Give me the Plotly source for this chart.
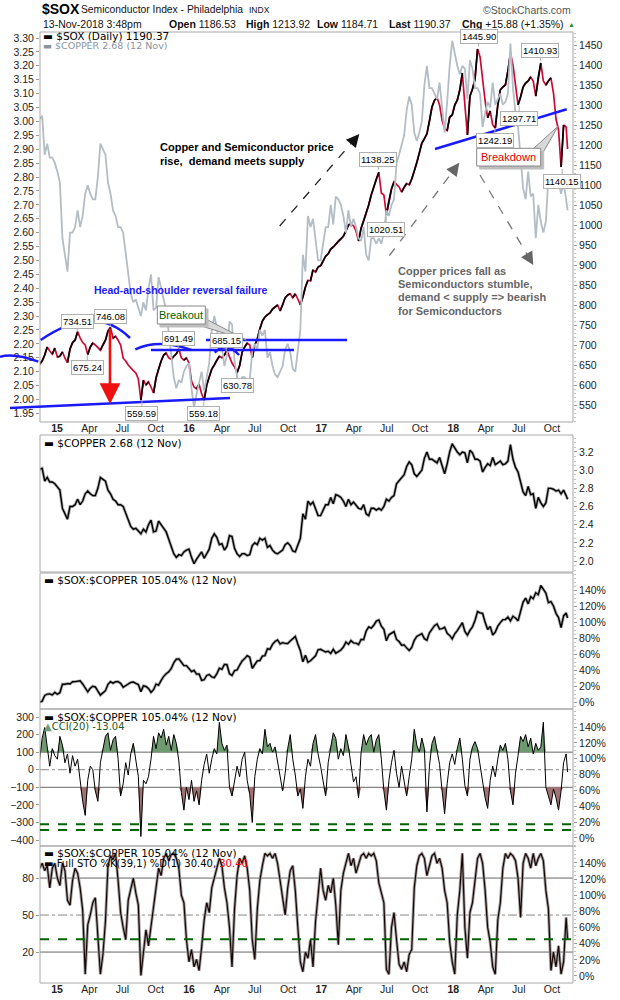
import numpy as np
import pandas as pd
import plotly.graph_objects as go

# weekly readings (Fridays), last point is 13-Nov-2018
dates = list(pd.date_range("2014-11-14", "2018-11-09", freq="W-FRI")) + [pd.Timestamp("2018-11-13")]

sox = [
    652, 660, 675,
    695, 685, 677, 692,
    670, 672, 683, 667, 656,  690, 706, 712, 733,  718, 706, 700, 676,
    695, 705, 700, 692,  687, 700, 712, 735, 744,  717, 722, 712, 700,
    667, 660, 650, 642, 636,  630, 615, 562, 612,  600, 608, 595, 580,
    618, 640, 660, 675, 680,  668, 664, 672, 678,  690, 668, 662, 668,
    655, 610, 595, 590, 602,  578, 562, 600, 620,  640, 650, 662, 672,
    668, 675, 686, 668, 655,  645, 631, 648, 682,  695, 705, 700, 668,
    700, 715, 740, 760, 770,  776, 780, 790, 795,  800, 785, 800, 818, 825,
    828, 818, 828, 815,  800, 820, 845, 862,  860, 888, 882, 895, 898,
    910, 922, 928, 940,  945, 952, 960, 965,  972, 985, 1000, 1003, 998,
    985, 960, 992, 1010,  1030, 1050, 1075, 1095,  1115, 1132, 1080, 1075, 1025,
    1060, 1090, 1108, 1100,  1095, 1082, 1095, 1104,  1100, 1115, 1135, 1155, 1180,
    1205, 1215, 1228, 1260,  1295, 1312, 1318, 1300,  1262, 1240, 1236, 1270, 1275,
    1300, 1312, 1338, 1380,  1300, 1225, 1322, 1340,  1365, 1440, 1420, 1360, 1310,
    1268, 1285, 1250, 1242,  1300, 1338, 1345, 1350,  1385, 1430, 1400, 1345, 1300,
    1320, 1345, 1355, 1360,  1370, 1360, 1322, 1370, 1405,  1360, 1350, 1360, 1368,
    1330, 1265, 1238, 1145,  1250, 1245, 1190,
]

copper = [
    3.01, 3.02, 2.88,
    2.92, 2.87, 2.87, 2.85,
    2.82, 2.78, 2.58, 2.52, 2.46,  2.60, 2.60, 2.62, 2.68,  2.62, 2.66, 2.74, 2.77,
    2.74, 2.72, 2.72, 2.80,  2.92, 2.90, 2.88, 2.78, 2.74,  2.68, 2.66, 2.62, 2.62,
    2.60, 2.52, 2.45, 2.38, 2.35,  2.36, 2.33, 2.30, 2.35,  2.32, 2.40, 2.45, 2.32,
    2.33, 2.44, 2.40, 2.36, 2.32,  2.24, 2.16, 2.08, 2.04,  2.07, 2.06, 2.10, 2.12,
    2.13, 2.04, 1.97, 2.02, 2.06,  2.10, 2.03, 2.08, 2.13,  2.25, 2.30, 2.26, 2.18,
    2.19, 2.12, 2.16, 2.28, 2.27,  2.14, 2.08, 2.05, 2.08,  2.08, 2.06, 2.07, 2.17,
    2.20, 2.18, 2.25, 2.23, 2.25,  2.15, 2.17, 2.12, 2.09,  2.08, 2.10, 2.12, 2.18, 2.20,
    2.17, 2.11, 2.10, 2.18,  2.25, 2.52, 2.46, 2.66,  2.62, 2.65, 2.58, 2.50, 2.50,
    2.56, 2.62, 2.62, 2.70,  2.63, 2.73, 2.72, 2.70,  2.66, 2.60, 2.68, 2.62, 2.65,
    2.62, 2.58, 2.57, 2.62,  2.52, 2.50, 2.58, 2.58,  2.56, 2.58, 2.56, 2.60, 2.68,
    2.66, 2.70, 2.72, 2.85,  2.88, 2.92, 2.95, 3.04,  3.09, 3.06, 2.96, 2.93, 2.96,
    3.00, 3.13, 3.20, 3.12,  3.12, 3.10, 3.08, 3.14,  3.04, 2.96, 3.07, 3.20, 3.29,
    3.24, 3.20, 3.17, 3.20,  3.19, 3.08, 3.22, 3.19,  3.12, 3.12, 3.10, 2.98, 3.03,
    3.07, 3.05, 3.14, 3.06,  3.08, 3.10, 3.06, 3.07,  3.10, 3.28, 3.12, 3.03, 2.98,
    2.86, 2.76, 2.72, 2.82,  2.73, 2.74, 2.58, 2.70, 2.64,  2.60, 2.64, 2.80, 2.80,
    2.79, 2.77, 2.78, 2.74,  2.78, 2.72, 2.68,
]

cci = [
    60, 180, 240, 120, 20, 120, 80, 60, 190, 140, 40, 90, -20, 80, 20, 60, -80, -180, -260, -60,
    20, 0, -120, -180, 40, 120, 190, 210, 110, 170, 190, 60, -150, -80, 40, -30, 90, 150, 60, -40,
    -380, -60, -80, -40, 60, 190, 120, 210, 180, 230, 140, 190, 110, 200, 150, 50, -130, -230, -100, -170,
    -60, -180, -120, -200, -60, 30, 90, -20, 60, 120, 90, 270, 150, 110, 140, -100, -150, -60, 20, -40,
    60, 100, -60, -140, -300, -40, 60, 120, 90, 230, 130, 150, 100, 130, 40, -50, -120, -20, 120, 200,
    60, -30, -150, -110, -220, -40, 60, 20, 150, 200, 90, 20, -60, -150, 40, 140, 210, 180, 60, 120,
    80, 200, 130, 30, -70, -40, -160, 100, 200, 140, 180, 200, 100, 170, 200, 60, -120, -230, -60, 40,
    110, -20, -100, 20, -80, -150, -40, 60, 230, 140, 100, 180, 120, -240, 20, 150, 190, 120, 30, -120,
    -250, -80, 40, 90, 30, 120, 180, 60, -90, -150, 60, 130, 160, 120, 30, -80, -160, -220, -60, 20,
    -40, 60, 140, 110, 150, 60, -120, -200, -20, 80, 190, 160, 200, 130, 180, 90, 150, 110, 130, 270,
    -100, -150, -200, -110, -160, -230, -120, 40, 90, -13.04,
]

sto = [
    88, 92, 86, 90, 72, 88, 92, 80, 74, 92, 86, 62, 58, 78, 88, 84, 72, 54, 2, 42,
    50, 60, 64, 30, 2, 18, 45, 90, 98, 95, 100, 78, 52, 40, 30, 62, 72, 80, 68, 58,
    1, 20, 38, 25, 42, 55, 74, 88, 82, 96, 100, 94, 99, 100, 96, 88, 66, 60, 30, 12,
    22, 8, 14, 5, 24, 46, 60, 52, 72, 80, 86, 96, 90, 72, 60, 40, 8, 55, 82, 96,
    92, 98, 88, 70, 30, 14, 55, 78, 90, 100, 98, 100, 96, 100, 92, 78, 62, 50, 72, 86,
    90, 70, 40, 12, 4, 20, 15, 30, 8, 45, 66, 88, 70, 62, 74, 68, 80, 58, 26, 70,
    84, 92, 100, 90, 96, 84, 92, 98, 100, 96, 100, 98, 100, 94, 76, 68, 60, 6, 2, 40,
    52, 30, 10, 6, 12, 4, 18, 22, 72, 90, 98, 100, 96, 82, 90, 98, 100, 92, 96, 88,
    70, 60, 28, 12, 2, 50, 70, 100, 40, 15, 52, 60, 78, 96, 100, 92, 70, 40, 28, 8,
    2, 46, 60, 88, 100, 96, 100, 98, 94, 80, 48, 92, 100, 96, 88, 100, 90, 96, 100, 94,
    70, 55, 5, 20, 8, 25, 2, 12, 48, 30.4,
]

# value labels on the $SOX line
label_dates = ["2015-02-26", "2015-05-28", "2015-03-26", "2015-08-24", "2015-12-02",
               "2016-02-11", "2016-04-13", "2016-05-13", "2017-06-08", "2017-06-29",
               "2018-03-12", "2018-04-26", "2018-07-02", "2018-08-30", "2018-10-29"]
label_values = [734.51, 746.08, 675.24, 559.59, 691.49, 559.18, 685.15, 630.78,
                1138.25, 1020.51, 1445.90, 1242.19, 1297.71, 1410.93, 1140.15]
label_above = [1, 1, 0, 0, 1, 0, 1, 0, 1, 0, 1, 0, 0, 1, 0]

tick_dates = pd.date_range("2015-01-01", "2018-10-01", freq="QS")
tick_text = [f"<b>{d.strftime('%y')}</b>" if d.month == 1 else d.strftime("%b") for d in tick_dates]
pct_ticks = list(range(0, 141, 20))
pct_text = [f"{v}%" for v in pct_ticks]

n = len(dates)
sox_arr = np.array(sox, dtype=float)
cop_arr = np.array(copper, dtype=float)
cci_arr = np.array(cci, dtype=float)
ratio = (sox_arr / cop_arr) / (sox_arr[0] / cop_arr[0]) * 100 - 100

# pixel -> paper helpers (plot area 40..573 x 32..983)
L, R, T, B = 40, 573, 32, 983


def P(x, y):
    return (x - L) / (R - L), (B - y) / (B - T)


def dom(top, bottom):
    return [(B - bottom) / (B - T), (B - top) / (B - T)]


TXT = "Liberation Sans, Arial"
LEG = "DejaVu Sans, Verdana"

fig = go.Figure()

# ---- top panel: copper (grey, left) and $SOX (right)
fig.add_trace(go.Scatter(x=dates, y=copper, mode="lines", line=dict(color="#b4bdc5", width=1.8),
                         xaxis="x2", yaxis="y2", hoverinfo="skip"))
fig.add_trace(go.Scatter(x=dates, y=sox, mode="lines", line=dict(color="#cc0a35", width=1.7),
                         xaxis="x2", yaxis="y"))
up_x, up_y = [], []
for i in range(1, n):
    if sox[i] >= sox[i - 1]:
        up_x += [dates[i - 1], dates[i], None]
        up_y += [sox[i - 1], sox[i], None]
fig.add_trace(go.Scatter(x=up_x, y=up_y, mode="lines", line=dict(color="black", width=1.7),
                         xaxis="x2", yaxis="y", hoverinfo="skip"))

# ---- copper panel
fig.add_trace(go.Scatter(x=dates, y=copper, mode="lines", line=dict(color="#aaaaaa", width=3),
                         xaxis="x", yaxis="y3", hoverinfo="skip"))
fig.add_trace(go.Scatter(x=dates, y=copper, mode="lines", line=dict(color="black", width=1.4),
                         xaxis="x", yaxis="y3"))

# ---- ratio panel
fig.add_trace(go.Scatter(x=dates, y=ratio, mode="lines", line=dict(color="#aaaaaa", width=3),
                         xaxis="x", yaxis="y4", hoverinfo="skip"))
fig.add_trace(go.Scatter(x=dates, y=ratio, mode="lines", line=dict(color="black", width=1.4),
                         xaxis="x", yaxis="y4"))

# ---- CCI panel
fig.add_trace(go.Scatter(x=dates, y=np.full(n, 100.0), mode="lines", line=dict(width=0),
                         xaxis="x", yaxis="y5", hoverinfo="skip"))
fig.add_trace(go.Scatter(x=dates, y=np.maximum(cci_arr, 100), mode="lines", line=dict(width=0),
                         fill="tonexty", fillcolor="#6f9a70", xaxis="x", yaxis="y5", hoverinfo="skip"))
fig.add_trace(go.Scatter(x=dates, y=np.full(n, -100.0), mode="lines", line=dict(width=0),
                         xaxis="x", yaxis="y5", hoverinfo="skip"))
fig.add_trace(go.Scatter(x=dates, y=np.minimum(cci_arr, -100), mode="lines", line=dict(width=0),
                         fill="tonexty", fillcolor="#a07272", xaxis="x", yaxis="y5", hoverinfo="skip"))
fig.add_trace(go.Scatter(x=dates, y=cci, mode="lines", line=dict(color="black", width=1),
                         xaxis="x", yaxis="y5"))
fig.add_trace(go.Scatter(x=dates, y=ratio, mode="lines", line=dict(width=0),
                         xaxis="x", yaxis="y6", hoverinfo="skip"))

# ---- STO panel
fig.add_trace(go.Scatter(x=dates, y=sto, mode="lines", line=dict(color="#a0a0a0", width=3),
                         xaxis="x", yaxis="y7", hoverinfo="skip"))
fig.add_trace(go.Scatter(x=dates, y=sto, mode="lines", line=dict(color="#1a0505", width=1.2),
                         xaxis="x", yaxis="y7"))
fig.add_trace(go.Scatter(x=dates, y=ratio, mode="lines", line=dict(width=0),
                         xaxis="x", yaxis="y8", hoverinfo="skip"))

tickfont = dict(family=TXT, size=10.5, color="#222")
xcommon = dict(range=["2014-11-15", "2018-11-28"], tickvals=tick_dates, ticktext=tick_text,
               showgrid=False, zeroline=False, showline=False, ticks="", tickfont=tickfont,
               automargin=False, fixedrange=True, ticklabelstandoff=-2)
ycommon = dict(showgrid=False, zeroline=False, showline=False, ticks="outside", ticklen=3,
               tickcolor="#999", tickfont=tickfont, automargin=False)


def minor(step):
    return dict(ticks="outside", ticklen=2, tickcolor="#c0c0c0", dtick=step)


fig.update_layout(
    width=620, height=1000,
    margin=dict(l=L, r=620 - R, t=T, b=1000 - B),
    paper_bgcolor="white", plot_bgcolor="white", showlegend=False, template="none",
    font=dict(family=TXT, size=10, color="#222"),
    xaxis=dict(domain=[0, 1], anchor="y7", **xcommon),
    xaxis2=dict(domain=[0, 1], anchor="y", matches="x", **xcommon),
    yaxis=dict(domain=dom(T, 422), anchor="x2", side="right", range=[507.5, 1482.5],
               tickvals=list(range(550, 1451, 50)), minor=minor(10), **ycommon),
    yaxis2=dict(overlaying="y", anchor="x2", side="left", range=[1.919, 3.3216],
                tickvals=list(np.round(np.arange(1.95, 3.301, 0.05), 2)), tickformat=".2f", **ycommon),
    yaxis3=dict(domain=dom(435, 572), anchor="x", side="right", range=[1.879, 3.387],
                tickvals=[2.0, 2.2, 2.4, 2.6, 2.8, 3.0, 3.2], tickformat=".1f", minor=minor(0.05), **ycommon),
    yaxis4=dict(domain=dom(573, 709), anchor="x", side="right", range=[-8.75, 161.25],
                tickvals=pct_ticks, ticktext=pct_text, minor=minor(5), **ycommon),
    yaxis5=dict(domain=dom(709, 846), anchor="x", side="left", range=[-434, 345.5],
                tickvals=list(range(-400, 301, 100)), **ycommon),
    yaxis6=dict(overlaying="y5", anchor="x", side="right", range=[-10.1, 162.7],
                tickvals=pct_ticks, ticktext=pct_text, minor=minor(5), **ycommon),
    yaxis7=dict(domain=dom(846, B), anchor="x", side="left", range=[-5.1, 106],
                tickvals=[20, 50, 80], **ycommon),
    yaxis8=dict(overlaying="y7", anchor="x", side="right", range=[-8.7, 161],
                tickvals=pct_ticks, ticktext=pct_text, minor=minor(5), **ycommon),
)

shapes = []
# panel frames
for top, bottom in [(T, 422), (435, 572), (573, 709), (709, 846), (846, B)]:
    y0, y1 = dom(top, bottom)
    shapes.append(dict(type="rect", xref="paper", yref="paper", x0=0, x1=1, y0=y0, y1=y1,
                       line=dict(color="#a8a8a8", width=1), layer="above"))

# indicator reference lines
for yref, level, dash, color in [("y5", 100, "solid", "#666"), ("y5", -100, "solid", "#666"),
                                 ("y5", 0, "dashdot", "#888"), ("y7", 80, "solid", "#666"),
                                 ("y7", 20, "solid", "#666"), ("y7", 50, "dashdot", "#888")]:
    shapes.append(dict(type="line", xref="paper", yref=yref, x0=0, x1=1, y0=level, y1=level,
                       line=dict(color=color, width=1, dash=dash), layer="below"))
for yref, level in [("y5", -310), ("y5", -343), ("y7", 30.4)]:
    shapes.append(dict(type="line", xref="paper", yref=yref, x0=0, x1=1, y0=level, y1=level,
                       line=dict(color="#006400", width=2, dash="dash"), layer="above"))

BLUE = "#1a1aff"


def seg(x0, y0, x1, y1, color=BLUE, width=2.5, dash="solid"):
    a, b = P(x0, y0)
    c, d = P(x1, y1)
    return dict(type="line", xref="paper", yref="paper", x0=a, y0=b, x1=c, y1=d,
                line=dict(color=color, width=width, dash=dash), layer="above")


def arc(x0, y0, cx, cy, x1, y1):
    a, b = P(x0, y0)
    c, d = P(cx, cy)
    e, f = P(x1, y1)
    return dict(type="path", xref="paper", yref="paper", path=f"M {a},{b} Q {c},{d} {e},{f}",
                line=dict(color=BLUE, width=2.5), layer="above")


# head-and-shoulder drawings
shapes += [
    arc(0, 356.7, 15, 353, 38.3, 361.7),
    arc(40.7, 340, 94.7, 303, 130, 338),
    arc(135.3, 349.3, 159.3, 338.3, 191.3, 350),
    arc(214.7, 352.7, 225.8, 340.8, 239, 355),
    seg(151, 350, 294, 350),
    seg(206, 340, 347, 340),
    seg(10, 408, 230, 398),
    seg(435, 149, 566.7, 109.3),
    seg(279.7, 226, 355.5, 138.4, color="#222", width=1.3, dash="dash"),
    seg(389.3, 255.7, 456.5, 166.5, color="#777", width=1.3, dash="dash"),
    seg(480, 175, 530.8, 260.7, color="#777", width=1.3, dash="dash"),
]


def poly(points, fill, line):
    pts = [P(x, y) for x, y in points]
    path = "M " + " L ".join(f"{a},{b}" for a, b in pts) + " Z"
    return dict(type="path", xref="paper", yref="paper", path=path, fillcolor=fill,
                line=dict(color=line, width=1), layer="above")


def box(x0, y0, x1, y1, fill, line):
    a, b = P(x0, y0)
    c, d = P(x1, y1)
    return dict(type="rect", xref="paper", yref="paper", x0=a, y0=d, x1=c, y1=b,
                fillcolor=fill, line=dict(color=line, width=1), layer="above")


# callout boxes with shadow and tail
shapes += [
    poly([(196.5, 324.5), (246.3, 340), (205, 318.5)], "#d8d8d8", "#888"),
    box(160, 309, 208, 327, "#bdbdbd", "#bdbdbd"),
    box(157.3, 306, 205.3, 324, "white", "#888"),
    poly([(533, 149), (558.3, 126), (541, 156)], "#d8d8d8", "#888"),
    box(479.7, 151.3, 543.7, 169, "#bdbdbd", "#bdbdbd"),
    box(476.7, 148.3, 540.7, 166, "white", "#888"),
]
fig.update_layout(shapes=shapes)

ann = []


def text(x, y, s, size=10.5, color="#222", family=TXT, anchor="left"):
    a, b = P(x, y)
    ann.append(dict(xref="paper", yref="paper", x=a, y=b, text=s, showarrow=False,
                    xanchor=anchor, yanchor="middle", font=dict(family=family, size=size, color=color)))


# header
text(40, 9, "<b>$SOX</b>", size=14, color="black")
text(79, 9.5, "Semiconductor Index - Philadelphia", size=10.3, color="#111")
text(247, 10, "INDX", size=8.5, color="#111")
text(573, 10, "©StockCharts.com", size=10.5, color="#555", anchor="right")
text(40.7, 23.5, "13-Nov-2018 3:48pm", size=10.5, color="#111")
for xx, s in [(167, "<b>Open</b> 1186.53"), (244, "<b>High</b> 1213.92"), (315, "<b>Low</b> 1184.71"),
              (387, "<b>Last</b> 1190.37"), (460, "<b>Chg</b> +15.88 (+1.35%)")]:
    text(xx, 23.5, s, size=10.5, color="#111")
text(566, 24, "▲", size=7, color="#2e8b2e")

# panel legends
text(40.5, 35.7, "▬ $SOX (Daily) 1190.37", size=10.5, color="black", family=LEG)
text(40.5, 45.7, "▬ $COPPER 2.68 (12 Nov)", size=9.5, color="#8a949c", family=LEG)
text(42, 443.3, "▬ $COPPER 2.68 (12 Nov)", size=10.5, color="black", family=LEG)
text(42, 580, "▬ $SOX:$COPPER 105.04% (12 Nov)", size=10.5, color="black", family=LEG)
text(42, 716.7, "▬ $SOX:$COPPER 105.04% (12 Nov)", size=10.5, color="black", family=LEG)
text(42, 726.7, "<span style='color:#6f9a70'>▲</span>CCI(20) -13.04", size=10, color="#1e5a1e", family=LEG)
text(42, 853.3, "▬ $SOX:$COPPER 105.04% (12 Nov)", size=10.5, color="black", family=LEG)
text(42, 863.3, "▬ Full STO %K(39,1) %D(1) 30.40, <span style='color:red'>30.40</span>", size=10,
     color="black", family=LEG)

# chart comments
text(180.5, 290, "<b>Head-and-shoulder reversal failure</b>", size=10.5, color=BLUE, anchor="center")
text(158, 147.3, "<b>Copper and Semiconductor price</b>", size=11, color="black")
text(158, 160.5, "<b>rise,  demand meets supply</b>", size=11, color="black")
for k, s in enumerate(["Copper prices fall as", "Semiconductors stumble,",
                       "demand &lt; supply =&gt; bearish", "for Semiconductors"]):
    text(396, 271 + 13.2 * k, f"<b>{s}</b>", size=11, color="#666")
text(181.3, 315, "Breakout", size=11, color="#006000", anchor="center")
text(508.7, 157.2, "Breakdown", size=11, color="#e00000", anchor="center")


def head(x, y, dx, dy, color, size=2.0, width=1.3):
    a, b = P(x, y)
    ann.append(dict(xref="paper", yref="paper", x=a, y=b, ax=dx, ay=dy, text="", showarrow=True,
                    arrowhead=2, arrowsize=size, arrowwidth=width, arrowcolor=color))


head(359.3, 134, -6.5, 7.6, "#111")
head(459.3, 162.7, -6, 8, "#666")
head(533.3, 265, -5.1, -8.6, "#666")
head(110, 404, 0, -77, "#ee1111", size=1.6, width=2.6)

for d, v, up in zip(label_dates, label_values, label_above):
    ann.append(dict(xref="x2", yref="y", x=d, y=v, text=f"{v:.2f}", showarrow=True, arrowhead=0,
                    arrowwidth=1, arrowcolor="#b0b0b0", ax=0, ay=-10 if up else 12.5,
                    bgcolor="white", bordercolor="#b0b0b0", borderwidth=1, borderpad=1,
                    font=dict(family=TXT, size=9.5, color="black")))

fig.update_layout(annotations=ann)
fig.write_html("out.html", config={"displayModeBar": False},
               post_script="document.body.style.margin='0';document.body.style.overflow='hidden';")
